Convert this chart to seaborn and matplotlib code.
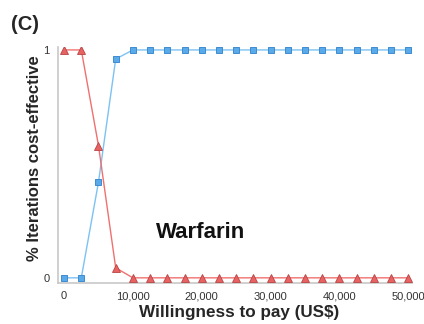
import matplotlib
matplotlib.use("Agg")
import matplotlib.pyplot as plt
import seaborn as sns
import pandas as pd
from matplotlib.ticker import FuncFormatter

# Willingness-to-pay thresholds (US$) and probability of being cost-effective
wtp = [0, 2500, 5000, 7500, 10000, 12500, 15000, 17500, 20000, 22500, 25000,
       27500, 30000, 32500, 35000, 37500, 40000, 42500, 45000, 47500, 50000]
strategy_a = [0, 0, 0.42, 0.96, 1, 1, 1, 1, 1, 1, 1,
              1, 1, 1, 1, 1, 1, 1, 1, 1, 1]
warfarin = [1, 1, 0.58, 0.044, 0, 0, 0, 0, 0, 0, 0,
            0, 0, 0, 0, 0, 0, 0, 0, 0, 0]
x_ticks = [0, 10000, 20000, 30000, 40000, 50000]
y_ticks = [0, 1]

df = pd.DataFrame({"wtp": wtp, "a": strategy_a, "warfarin": warfarin})

sns.set_theme(style="white")
plt.rcParams["font.family"] = ["Liberation Sans", "DejaVu Sans"]

fig = plt.figure(figsize=(4.24, 3.24), dpi=100)
ax = fig.add_axes([0.137, 0.127, 0.835, 0.728])

sns.lineplot(data=df, x="wtp", y="a", ax=ax, color="#7cc2f2", lw=1.0,
             marker="s", markersize=5, markerfacecolor="#5aaaea",
             markeredgecolor="#3d8bd0", markeredgewidth=0.7, zorder=3)
sns.lineplot(data=df, x="wtp", y="warfarin", ax=ax, color="#f07070", lw=1.0,
             marker="^", markersize=5.5, markerfacecolor="#e86262",
             markeredgecolor="#b84444", markeredgewidth=0.6, zorder=4)

ax.set_xlim(-872, 50581)
ax.set_ylim(-0.022, 1.013)
ax.set_xticks(x_ticks)
ax.set_yticks(y_ticks)
ax.xaxis.set_major_formatter(FuncFormatter(lambda v, p: f"{int(v):,}"))
ax.tick_params(axis="both", which="major", labelsize=8, length=4, width=0.8,
               direction="out", pad=2, colors="#cccccc", labelcolor="#333333")

for side in ["top", "right"]:
    ax.spines[side].set_visible(False)
for side in ["left", "bottom"]:
    ax.spines[side].set_color("#c8c8c8")
    ax.spines[side].set_linewidth(1.2)

ax.set_xlabel("Willingness to pay (US$)", fontsize=12.3, fontweight="bold")
ax.set_ylabel("% Iterations cost-effective", fontsize=12, fontweight="bold")
ax.xaxis.set_label_coords(0.51, -0.095)
ax.yaxis.set_label_coords(-0.045, 0.53)

ax.text(19800, 0.2, "Warfarin", fontsize=16, fontweight="bold",
        ha="center", va="center", color="#111111")
fig.text(0.027, 0.953, "(C)", fontsize=14.5, fontweight="bold",
         ha="left", va="top")

fig.savefig("out.png", dpi=100)
